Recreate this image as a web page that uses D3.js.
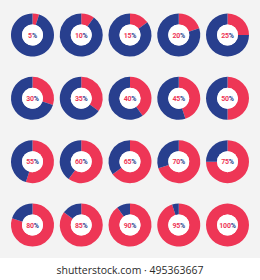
<!DOCTYPE html>
<html>
<head>
<meta charset="utf-8">
<script src="https://cdn.jsdelivr.net/npm/d3@7"></script>
<style>
  body { margin: 0; background: #f3f3f3; }
  svg { display: block; }
</style>
</head>
<body>
<div id="chart"></div>
<script>
// percentages shown in each donut, row by row
const percents = [5, 10, 15, 20, 25, 30, 35, 40, 45, 50, 55, 60, 65, 70, 75, 80, 85, 90, 95, 100];
const columns = [0, 1, 2, 3, 4];
const rows = [0, 1, 2, 3];
const caption = "shutterstock.com \u00b7 495363667";

let width = 260, height = 280;

let svg = d3.select("#chart")
  .append("svg")
  .attr("width", width)
  .attr("height", height);

svg.append("rect")
  .attr("width", width)
  .attr("height", 258)
  .attr("fill", "#f3f3f3");

svg.append("rect")
  .attr("y", 258)
  .attr("width", width)
  .attr("height", height - 258)
  .attr("fill", "#ffffff");

let xscale = d3.scalePoint()
  .domain(columns)
  .range([32.5, 227.5]);

let yscale = d3.scalePoint()
  .domain(rows)
  .range([35, 225]);

const red = "#ee3656";
const blue = "#283f8e";

let arc = d3.arc()
  .innerRadius(10.5)
  .outerRadius(21.5);

let pie = d3.pie()
  .sort(null)
  .value(d => d.value);

percents.forEach(function (p, i) {
  let g = svg.append("g")
    .attr("transform", `translate(${xscale(i % 5)}, ${yscale(Math.floor(i / 5))})`);

  let parts = [
    { value: p, color: red },
    { value: 100 - p, color: blue }
  ];

  g.selectAll("path")
    .data(pie(parts))
    .join("path")
    .attr("d", arc)
    .attr("fill", d => d.data.color);

  g.append("circle")
    .attr("r", 10.5)
    .attr("fill", "#ffffff");

  let label = g.append("text")
    .attr("text-anchor", "middle")
    .attr("y", 2.5)
    .attr("font-family", "Roboto, sans-serif")
    .attr("font-weight", 700)
    .attr("font-size", 7)
    .attr("letter-spacing", -0.2);

  label.append("tspan")
    .attr("fill", red)
    .text(p);

  label.append("tspan")
    .attr("fill", blue)
    .text("%");
});

svg.append("text")
  .attr("x", width / 2)
  .attr("y", 274)
  .attr("text-anchor", "middle")
  .attr("font-family", "Open Sans, sans-serif")
  .attr("font-size", 11.5)
  .attr("textLength", 147)
  .attr("lengthAdjust", "spacingAndGlyphs")
  .attr("fill", "#2a2a2a")
  .text(caption);
</script>
</body>
</html>
